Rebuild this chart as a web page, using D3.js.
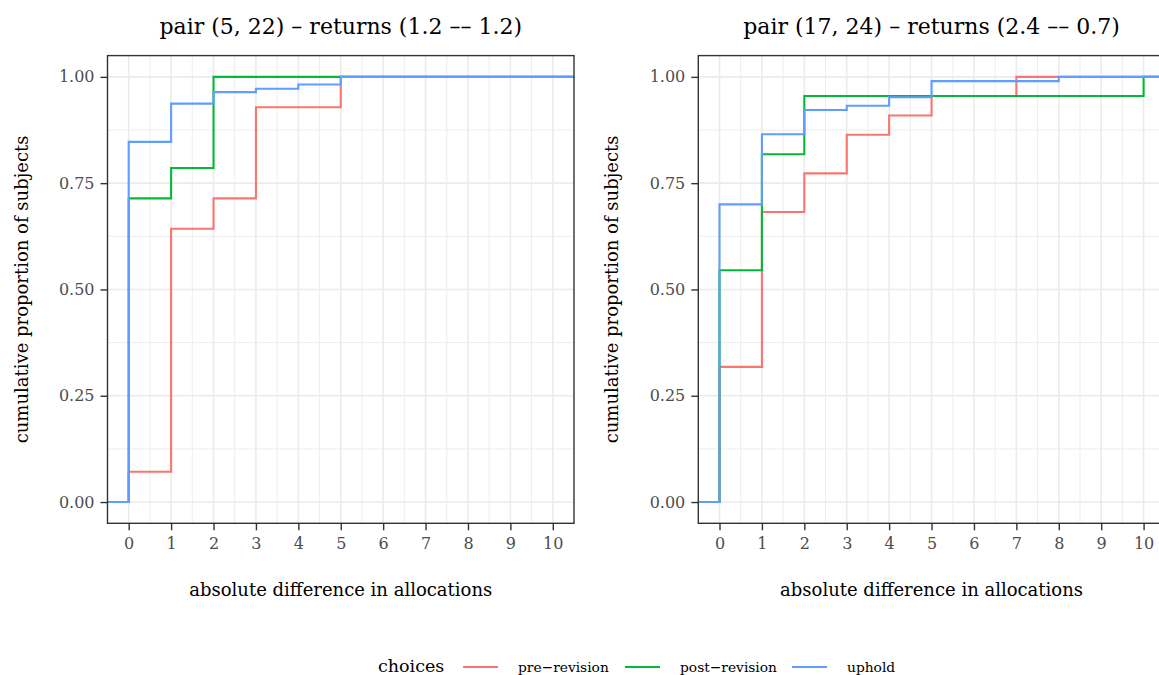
<!DOCTYPE html>
<html>
<head>
<meta charset="utf-8">
<script src="https://cdn.jsdelivr.net/npm/d3@7"></script>
<style>
  body { margin: 0; background: #fff; }
  svg text { font-family: "DejaVu Serif", serif; }
</style>
</head>
<body>
<div class="container"></div>
<script>
const width = 1159;
const height = 675;

// data (ecdf jump points)
const choices = ["pre-revision", "post-revision", "uphold"];
const colors = ["#F8766D", "#00BA38", "#619CFF"];
const xTicks = [0, 1, 2, 3, 4, 5, 6, 7, 8, 9, 10];
const yTicks = [0, 0.25, 0.5, 0.75, 1];
const titles = ["pair (5, 22) \u2013 returns (1.2 \u2013\u2013 1.2)", "pair (17, 24) \u2013 returns (2.4 \u2013\u2013 0.7)"];

const leftPreX = [0, 1, 2, 3, 5];
const leftPreY = [0.0714, 0.6429, 0.7143, 0.9286, 1];
const leftPostX = [0, 1, 2];
const leftPostY = [0.7143, 0.7857, 1];
const leftUpholdX = [0, 1, 2, 3, 4, 5];
const leftUpholdY = [0.847, 0.937, 0.964, 0.972, 0.982, 1];

const rightPreX = [0, 1, 2, 3, 4, 5, 7];
const rightPreY = [0.318, 0.682, 0.773, 0.864, 0.909, 0.955, 1];
const rightPostX = [0, 1, 2, 10];
const rightPostY = [0.545, 0.818, 0.955, 1];
const rightUpholdX = [0, 1, 2, 3, 4, 5, 8];
const rightUpholdY = [0.70, 0.865, 0.922, 0.932, 0.952, 0.990, 1];

const panels = [
  { title: titles[0], left: 107.5, series: [[leftPreX, leftPreY], [leftPostX, leftPostY], [leftUpholdX, leftUpholdY]] },
  { title: titles[1], left: 698.3, series: [[rightPreX, rightPreY], [rightPostX, rightPostY], [rightUpholdX, rightUpholdY]] }
];

const panelW = 466.5;
const panelTop = 55.6;
const panelBottom = 523.3;

const svg = d3.select(".container")
  .append("svg")
  .attr("width", width)
  .attr("height", height);

panels.forEach(p => {
  const xScale = d3.scaleLinear().domain([-0.5, 10.5]).range([p.left, p.left + panelW]);
  const yScale = d3.scaleLinear().domain([-0.05, 1.05]).range([panelBottom, panelTop]);

  const g = svg.append("g");

  // minor grid
  g.append("g").selectAll("line")
    .data(d3.range(0.5, 10, 1))
    .join("line")
    .attr("x1", d => xScale(d)).attr("x2", d => xScale(d))
    .attr("y1", panelTop).attr("y2", panelBottom)
    .attr("stroke", "#EBEBEB").attr("stroke-width", 0.9);
  g.append("g").selectAll("line")
    .data([0.125, 0.375, 0.625, 0.875])
    .join("line")
    .attr("y1", d => yScale(d)).attr("y2", d => yScale(d))
    .attr("x1", p.left).attr("x2", p.left + panelW)
    .attr("stroke", "#EBEBEB").attr("stroke-width", 0.9);

  // major grid
  g.append("g").selectAll("line")
    .data(xTicks)
    .join("line")
    .attr("x1", d => xScale(d)).attr("x2", d => xScale(d))
    .attr("y1", panelTop).attr("y2", panelBottom)
    .attr("stroke", "#EBEBEB").attr("stroke-width", 1.6);
  g.append("g").selectAll("line")
    .data(yTicks)
    .join("line")
    .attr("y1", d => yScale(d)).attr("y2", d => yScale(d))
    .attr("x1", p.left).attr("x2", p.left + panelW)
    .attr("stroke", "#EBEBEB").attr("stroke-width", 1.6);

  // ecdf steps, padded to the panel edges
  const line = d3.line()
    .x(d => d[0] === -Infinity ? p.left : d[0] === Infinity ? p.left + panelW : xScale(d[0]))
    .y(d => yScale(d[1]))
    .curve(d3.curveStepAfter);

  p.series.forEach((s, i) => {
    const pts = [[-Infinity, 0]].concat(s[0].map((x, j) => [x, s[1][j]])).concat([[Infinity, 1]]);
    g.append("path")
      .attr("d", line(pts))
      .attr("fill", "none")
      .attr("stroke", colors[i])
      .attr("stroke-width", 2.1);
  });

  // panel border
  g.append("rect")
    .attr("x", p.left).attr("y", panelTop)
    .attr("width", panelW).attr("height", panelBottom - panelTop)
    .attr("fill", "none")
    .attr("stroke", "#333333").attr("stroke-width", 1.4);

  const xAxis = d3.axisBottom(xScale).tickValues(xTicks).tickSize(7).tickPadding(7);
  const xg = g.append("g")
    .attr("transform", `translate(0, ${panelBottom})`)
    .call(xAxis);
  xg.select(".domain").remove();
  xg.selectAll(".tick line").attr("stroke", "#333333").attr("stroke-width", 1.4);
  xg.selectAll(".tick text")
    .attr("fill", "#4D4D4D")
    .attr("font-size", 16)
    .attr("font-family", "DejaVu Serif");

  const yAxis = d3.axisLeft(yScale).tickValues(yTicks).tickSize(7).tickPadding(6).tickFormat(d3.format(".2f"));
  const yg = g.append("g")
    .attr("transform", `translate(${p.left}, 0)`)
    .call(yAxis);
  yg.select(".domain").remove();
  yg.selectAll(".tick line").attr("stroke", "#333333").attr("stroke-width", 1.4);
  yg.selectAll(".tick text")
    .attr("fill", "#4D4D4D")
    .attr("font-size", 16)
    .attr("font-family", "DejaVu Serif");

  const cx = p.left + panelW / 2;
  g.append("text")
    .attr("x", cx).attr("y", 34)
    .attr("text-anchor", "middle")
    .attr("font-size", 22)
    .text(p.title);

  g.append("text")
    .attr("x", cx).attr("y", 596)
    .attr("text-anchor", "middle")
    .attr("font-size", 18)
    .text("absolute difference in allocations");

  g.append("text")
    .attr("transform", `translate(${p.left - 80}, ${(panelTop + panelBottom) / 2}) rotate(-90)`)
    .attr("text-anchor", "middle")
    .attr("font-size", 18)
    .text("cumulative proportion of subjects");
});

// legend
const legend = svg.append("g");
legend.append("text")
  .attr("x", 378).attr("y", 672)
  .attr("font-size", 17.5)
  .text("choices");

const keyX = [463, 625, 792];
choices.forEach((c, i) => {
  legend.append("line")
    .attr("x1", keyX[i]).attr("x2", keyX[i] + 35)
    .attr("y1", 667).attr("y2", 667)
    .attr("stroke", colors[i]).attr("stroke-width", 2.1);
  legend.append("text")
    .attr("x", keyX[i] + 55).attr("y", 672)
    .attr("font-size", 13.8)
    .text(c.replace("-", "\u2212"));
});
</script>
</body>
</html>
